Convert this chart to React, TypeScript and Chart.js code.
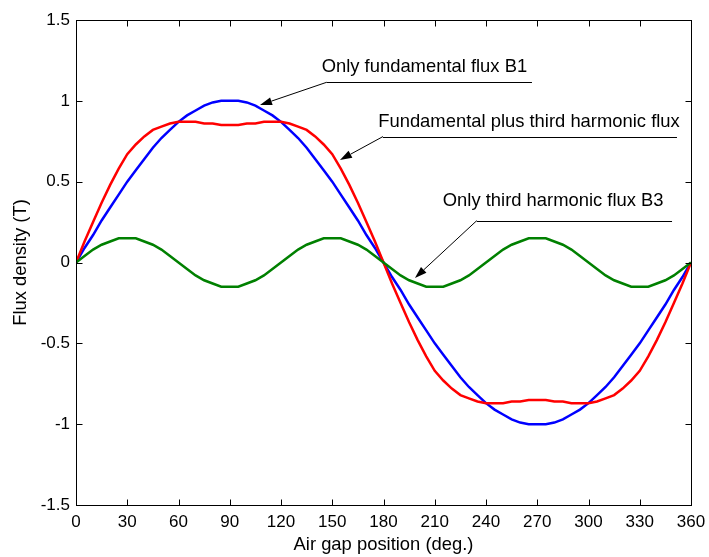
import React, { useEffect, useRef } from "react";
import { Chart, registerables } from "chart.js";

Chart.register(...registerables);

// Air gap position (deg.)
const positions = [
  0, 5, 10, 15, 20, 25, 30, 35, 40, 45, 50, 55, 60, 65, 70, 75, 80, 85, 90, 95, 100, 105, 110, 115, 120,
  125, 130, 135, 140, 145, 150, 155, 160, 165, 170, 175, 180, 185, 190, 195, 200, 205, 210, 215, 220, 225,
  230, 235, 240, 245, 250, 255, 260, 265, 270, 275, 280, 285, 290, 295, 300, 305, 310, 315, 320, 325, 330,
  335, 340, 345, 350, 355, 360,
];

// Only fundamental flux B1 (T)
const onlyFundamental = [
  0, 0.09, 0.17, 0.26, 0.34, 0.42, 0.5, 0.57, 0.64, 0.71, 0.77, 0.82, 0.87, 0.91, 0.94, 0.97, 0.99, 1.0, 1.0,
  1.0, 0.99, 0.97, 0.94, 0.91, 0.87, 0.82, 0.77, 0.71, 0.64, 0.57, 0.5, 0.42, 0.34, 0.26, 0.17, 0.09, 0,
  -0.09, -0.17, -0.26, -0.34, -0.42, -0.5, -0.57, -0.64, -0.71, -0.77, -0.82, -0.87, -0.91, -0.94, -0.97,
  -0.99, -1.0, -1.0, -1.0, -0.99, -0.97, -0.94, -0.91, -0.87, -0.82, -0.77, -0.71, -0.64, -0.57, -0.5, -0.42,
  -0.34, -0.26, -0.17, -0.09, 0,
];

// Fundamental plus third harmonic flux (T)
const fundamentalPlusThird = [
  0, 0.13, 0.25, 0.37, 0.48, 0.58, 0.67, 0.73, 0.78, 0.82, 0.84, 0.86, 0.87, 0.87, 0.87, 0.86, 0.86, 0.85,
  0.85, 0.85, 0.86, 0.86, 0.87, 0.87, 0.87, 0.86, 0.84, 0.82, 0.78, 0.73, 0.67, 0.58, 0.48, 0.37, 0.25, 0.13,
  0, -0.13, -0.25, -0.37, -0.48, -0.58, -0.67, -0.73, -0.78, -0.82, -0.84, -0.86, -0.87, -0.87, -0.87, -0.86,
  -0.86, -0.85, -0.85, -0.85, -0.86, -0.86, -0.87, -0.87, -0.87, -0.86, -0.84, -0.82, -0.78, -0.73, -0.67,
  -0.58, -0.48, -0.37, -0.25, -0.13, 0,
];

// Only third harmonic flux B3 (T)
const onlyThird = [
  0, 0.04, 0.08, 0.11, 0.13, 0.15, 0.15, 0.15, 0.13, 0.11, 0.08, 0.04, 0, -0.04, -0.08, -0.11, -0.13, -0.15,
  -0.15, -0.15, -0.13, -0.11, -0.08, -0.04, 0, 0.04, 0.08, 0.11, 0.13, 0.15, 0.15, 0.15, 0.13, 0.11, 0.08,
  0.04, 0, -0.04, -0.08, -0.11, -0.13, -0.15, -0.15, -0.15, -0.13, -0.11, -0.08, -0.04, 0, 0.04, 0.08, 0.11,
  0.13, 0.15, 0.15, 0.15, 0.13, 0.11, 0.08, 0.04, 0, -0.04, -0.08, -0.11, -0.13, -0.15, -0.15, -0.15, -0.13,
  -0.11, -0.08, -0.04, 0,
];

const xTickValues = [0, 30, 60, 90, 120, 150, 180, 210, 240, 270, 300, 330, 360];
const yTickValues = [-1.5, -1, -0.5, 0, 0.5, 1, 1.5];
const yTickLabels = ["-1.5", "-1", "-0.5", "0", "0.5", "1", "1.5"];

const xTitle = "Air gap position (deg.)";
const yTitle = "Flux density (T)";

// Annotations (data coordinates)
const annotationTexts = [
  "Only fundamental flux B1",
  "Fundamental plus third harmonic flux",
  "Only third harmonic flux B3",
];
const annotationTextAt = [
  [143.8, 1.176],
  [176.9, 0.84],
  [214.7, 0.35],
];
const annotationLineStart = [
  [146.8, 1.115],
  [179.7, 0.779],
  [234.6, 0.259],
];
const annotationLineEnd = [
  [266.9, 1.115],
  [351.8, 0.779],
  [348.9, 0.259],
];
const annotationArrowTip = [
  [107.7, 0.974],
  [154.5, 0.634],
  [198.4, -0.096],
];

const FONT = "'Liberation Sans', Arial, Helvetica, sans-serif";

const frameAndNotes = {
  id: "frameAndNotes",
  afterDraw(chart: any) {
    const { ctx, chartArea } = chart;
    const xs = chart.scales.x;
    const ys = chart.scales.y;
    const L = Math.round(chartArea.left) + 0.5;
    const R = Math.round(chartArea.right) + 0.5;
    const T = Math.round(chartArea.top) + 0.5;
    const B = Math.round(chartArea.bottom) + 0.5;
    ctx.save();
    ctx.strokeStyle = "#000";
    ctx.lineWidth = 1;
    ctx.strokeRect(L, T, R - L, B - T);
    const tl = 6;
    ctx.beginPath();
    xTickValues.forEach((v) => {
      const px = Math.round(xs.getPixelForValue(v)) + 0.5;
      ctx.moveTo(px, B);
      ctx.lineTo(px, B - tl);
      ctx.moveTo(px, T);
      ctx.lineTo(px, T + tl);
    });
    yTickValues.forEach((v) => {
      const py = Math.round(ys.getPixelForValue(v)) + 0.5;
      ctx.moveTo(L, py);
      ctx.lineTo(L + tl, py);
      ctx.moveTo(R, py);
      ctx.lineTo(R - tl, py);
    });
    ctx.stroke();

    // annotations
    ctx.font = `18.4px ${FONT}`;
    ctx.fillStyle = "#000";
    ctx.textBaseline = "alphabetic";
    ctx.textAlign = "left";
    annotationTexts.forEach((t, i) => {
      const tx = xs.getPixelForValue(annotationTextAt[i][0]);
      const ty = ys.getPixelForValue(annotationTextAt[i][1]);
      ctx.fillText(t, tx, ty);
      const sx = xs.getPixelForValue(annotationLineStart[i][0]);
      const sy = ys.getPixelForValue(annotationLineStart[i][1]);
      const ex = xs.getPixelForValue(annotationLineEnd[i][0]);
      const ey = ys.getPixelForValue(annotationLineEnd[i][1]);
      const ax = xs.getPixelForValue(annotationArrowTip[i][0]);
      const ay = ys.getPixelForValue(annotationArrowTip[i][1]);
      ctx.strokeStyle = "#000";
      ctx.lineWidth = 1;
      ctx.beginPath();
      ctx.moveTo(sx, Math.round(sy) + 0.5);
      ctx.lineTo(ex, Math.round(ey) + 0.5);
      ctx.stroke();
      const ang = Math.atan2(ay - sy, ax - sx);
      const headLen = 12;
      const headHalf = 4;
      const bx = ax - headLen * Math.cos(ang);
      const by = ay - headLen * Math.sin(ang);
      ctx.beginPath();
      ctx.moveTo(sx, sy);
      ctx.lineTo(bx, by);
      ctx.stroke();
      ctx.beginPath();
      ctx.moveTo(ax, ay);
      ctx.lineTo(bx + headHalf * Math.sin(ang), by - headHalf * Math.cos(ang));
      ctx.lineTo(bx - headHalf * Math.sin(ang), by + headHalf * Math.cos(ang));
      ctx.closePath();
      ctx.fill();
    });
    ctx.restore();
  },
};

export default function App() {
  const canvasRef = useRef<HTMLCanvasElement | null>(null);

  useEffect(() => {
    const canvas = canvasRef.current;
    if (!canvas) return;
    const mk = (vals: number[]) => positions.map((p, i) => ({ x: p, y: vals[i] }));
    const chart = new Chart(canvas, {
      type: "line",
      data: {
        datasets: [
          {
            label: "Only fundamental flux B1",
            data: mk(onlyFundamental),
            borderColor: "#0000ff",
            borderWidth: 2.5,
            pointRadius: 0,
            fill: false,
            tension: 0,
            order: 3,
          },
          {
            label: "Fundamental plus third harmonic flux",
            data: mk(fundamentalPlusThird),
            borderColor: "#ff0000",
            borderWidth: 2.5,
            pointRadius: 0,
            fill: false,
            tension: 0,
            order: 2,
          },
          {
            label: "Only third harmonic flux B3",
            data: mk(onlyThird),
            borderColor: "#008000",
            borderWidth: 2.5,
            pointRadius: 0,
            fill: false,
            tension: 0,
            order: 1,
          },
        ],
      },
      options: {
        responsive: false,
        animation: false,
        events: [],
        layout: { padding: { left: 0, right: 18, top: 20, bottom: 0 } },
        plugins: {
          legend: { display: false },
          tooltip: { enabled: false },
          title: { display: false },
        },
        scales: {
          x: {
            type: "linear",
            min: 0,
            max: 360,
            grid: { display: false, drawTicks: false },
            border: { display: false },
            afterBuildTicks: (scale: any) => {
              scale.ticks = xTickValues.map((v) => ({ value: v }));
            },
            afterFit: (scale: any) => {
              scale.height = 52;
              scale.paddingLeft = 0;
              scale.paddingRight = 0;
            },
            ticks: {
              color: "#000",
              font: { family: FONT, size: 17 },
              padding: 7,
              maxRotation: 0,
              autoSkip: false,
              callback: (v: any) => String(v),
            },
            title: {
              display: true,
              text: xTitle,
              color: "#000",
              font: { family: FONT, size: 18.4 },
              padding: { top: 0, bottom: 1 },
            },
          },
          y: {
            type: "linear",
            min: -1.5,
            max: 1.5,
            grid: { display: false, drawTicks: false },
            border: { display: false },
            afterBuildTicks: (scale: any) => {
              scale.ticks = yTickValues.map((v) => ({ value: v }));
            },
            afterFit: (scale: any) => {
              scale.width = 76;
              scale.paddingTop = 0;
              scale.paddingBottom = 0;
            },
            ticks: {
              color: "#000",
              font: { family: FONT, size: 17 },
              padding: 6,
              autoSkip: false,
              callback: (v: any) => {
                const idx = yTickValues.indexOf(Number(v));
                return idx >= 0 ? yTickLabels[idx] : "";
              },
            },
            title: {
              display: true,
              text: yTitle,
              color: "#000",
              font: { family: FONT, size: 18.4 },
              padding: { top: 10, bottom: 0 },
            },
          },
        },
      },
      plugins: [frameAndNotes],
    } as any);
    return () => chart.destroy();
  }, []);

  return (
    <div style={{ position: "absolute", left: 0, top: 0, width: 709, height: 557, background: "#fff" }}>
      <canvas ref={canvasRef} width={709} height={557} style={{ display: "block" }} />
    </div>
  );
}
